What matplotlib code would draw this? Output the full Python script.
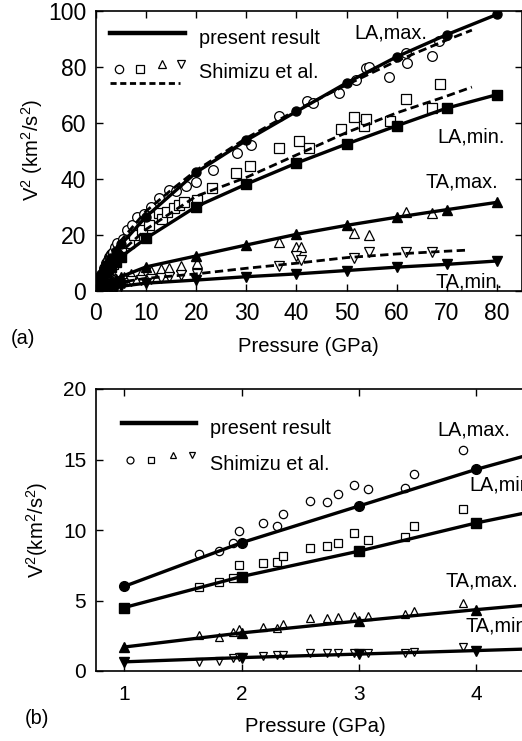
import matplotlib
matplotlib.use('Agg')
import matplotlib.pyplot as plt

plt.rcParams['font.family'] = ['Liberation Sans', 'DejaVu Sans']
plt.rcParams['mathtext.fontset'] = 'custom'
plt.rcParams['mathtext.rm'] = 'Liberation Sans'
plt.rcParams['mathtext.it'] = 'Liberation Sans'

# present result (calculated)
p_calc = [0, 1, 2, 3, 4, 5, 10, 20, 30, 40, 50, 60, 70, 80]
la_max = [2.8, 6.0, 9.1, 11.7, 14.3, 16.6, 26.5, 42.3, 53.7, 64.0, 74.2, 83.5, 91.4, 98.6]
la_min = [2.3, 4.5, 6.7, 8.5, 10.5, 12.2, 18.8, 30.1, 38.1, 45.6, 52.4, 58.9, 65.2, 70.0]
ta_max = [0.8, 1.7, 2.7, 3.55, 4.35, 5.1, 8.6, 12.5, 16.4, 20.2, 23.4, 26.3, 29.0, 31.6]
ta_min = [0.4, 0.65, 0.95, 1.2, 1.45, 1.7, 2.8, 3.9, 5.1, 6.1, 7.3, 8.5, 9.5, 10.7]

# Shimizu et al. fits (dashed)
p_fit_la_max = [1, 5, 10, 15, 20, 30, 40, 50, 60, 70, 75]
fit_la_max = [5.5, 18.0, 28.5, 36.0, 43.0, 54.5, 64.5, 73.5, 82.0, 89.5, 93.0]
p_fit_la_min = [1, 5, 10, 20, 30, 40, 50, 60, 70, 75]
fit_la_min = [5.0, 14.0, 22.0, 33.8, 40.5, 48.5, 56.5, 63.5, 69.5, 72.7]
p_fit_ta_min = [1, 5, 10, 20, 30, 40, 50, 60, 70, 74.5]
fit_ta_min = [1.5, 3.2, 4.5, 6.1, 8.1, 9.9, 11.9, 13.2, 14.2, 14.6]

# Shimizu et al. data, low pressure
p_low = [1.64, 1.81, 1.93, 1.98, 2.18, 2.30, 2.35, 2.58, 2.73, 2.82, 2.96, 3.08, 3.39, 3.47, 3.89]
s_la_max_low = [8.29, 8.52, 9.11, 9.96, 10.5, 10.3, 11.15, 12.07, 12.0, 12.55, 13.2, 12.9, 12.98, 13.99, 15.65]
s_la_min_low = [5.99, 6.30, 6.63, 7.53, 7.69, 7.76, 8.16, 8.71, 8.90, 9.09, 9.78, 9.30, 9.47, 10.29, 11.48]
s_ta_max_low = [2.56, 2.44, 2.75, 2.96, 3.15, 3.08, 3.31, 3.74, 3.74, 3.86, 3.90, 3.90, 4.03, 4.26, 4.80]
s_ta_min_low = [0.66, 0.73, 0.90, 1.02, 1.07, 1.14, 1.14, 1.26, 1.30, 1.30, 1.30, 1.26, 1.30, 1.37, 1.73]

# Shimizu et al. data, high pressure
p_hi_la_max = [4.2, 5.3, 6.2, 7.2, 8.2, 9.5, 11, 12.6, 14.6, 16, 17.9, 19.9, 23.4, 28.2, 30.9,
               36.5, 42.2, 43.2, 48.5, 51.8, 53.8, 54.5, 58.5, 61.8, 62.1, 67.1, 68.5]
s_la_max_hi = [17.0, 18.5, 21.8, 23.6, 26.5, 27.5, 30.0, 33.1, 36.1, 35.5, 37.3, 39.0, 43.0, 49.2, 52.1,
               62.3, 67.6, 67.0, 70.6, 75.4, 79.5, 79.9, 76.2, 84.9, 81.3, 83.7, 89.0]
p_hi_la_min = [5, 6.5, 7.6, 9.2, 10.5, 12.6, 13.2, 14.2, 15.5, 16.6, 17.6, 20.2, 23.2, 27.9, 30.7,
               36.5, 40.5, 42.5, 48.8, 51.5, 53.5, 53.8, 58.6, 61.8, 67.1, 68.6]
s_la_min_hi = [14.5, 17.0, 20.0, 21.8, 23.5, 27.7, 25.5, 28.3, 29.5, 30.5, 31.9, 32.5, 36.7, 42.0, 44.4,
               51.0, 53.3, 51.0, 57.6, 62.0, 58.8, 61.3, 60.6, 68.3, 65.2, 73.8]
p_hi_ta = [5.5, 7, 9, 11, 13, 14.5, 16.9, 20.2, 36.5, 39.9, 40.9, 51.5, 54.5, 61.8, 67.1]
s_ta_max_hi = [5.0, 6.0, 6.5, 7.3, 8.0, 8.3, 8.9, 9.9, 17.6, 15.7, 15.7, 20.6, 20.0, 28.1, 27.7]
s_ta_min_hi = [3.0, 3.4, 3.8, 4.2, 4.5, 5.0, 5.7, 6.1, 9.0, 12.3, 11.1, 11.9, 14.0, 14.0, 14.0]

W, H = 522, 741
fig = plt.figure(figsize=(W / 100, H / 100), dpi=100)


def box(l, t, r, b):
    return [l / W, 1 - b / H, (r - l) / W, (b - t) / H]


ax1 = fig.add_axes(box(96, 10.5, 522, 291))
ax2 = fig.add_axes(box(96, 389, 522, 671))

calc = [(la_max, 'o'), (la_min, 's'), (ta_max, '^'), (ta_min, 'v')]
shim_low = [(s_la_max_low, 'o'), (s_la_min_low, 's'), (s_ta_max_low, '^'), (s_ta_min_low, 'v')]
shim_hi = [(p_hi_la_max, s_la_max_hi, 'o'), (p_hi_la_min, s_la_min_hi, 's'),
           (p_hi_ta, s_ta_max_hi, '^'), (p_hi_ta, s_ta_min_hi, 'v')]

# panel (a)
for vals, m in calc:
    ax1.plot(p_calc, vals, '-', color='black', lw=2.4, marker=m, ms=6.5, zorder=3)
for px, vals in [(p_fit_la_max, fit_la_max), (p_fit_la_min, fit_la_min), (p_fit_ta_min, fit_ta_min)]:
    ax1.plot(px, vals, '--', color='black', lw=2.0, dashes=(3, 1.6), zorder=2)
for vals, m in shim_low:
    ax1.plot(p_low, vals, m, ms=7, mfc='white', mec='black', mew=0.9, zorder=1)
for px, vals, m in shim_hi:
    ax1.plot(px, vals, m, ms=7, mfc='white', mec='black', mew=0.9, zorder=1)

ax1.set_xlim(0, 85)
ax1.set_ylim(0, 100)
ax1.set_xticks(range(0, 81, 10))
ax1.set_yticks(range(0, 101, 20))
ax1.tick_params(direction='in', top=True, right=True, labelsize=16.5, length=5, width=1)
ax1.tick_params(axis='x', pad=8)
ax1.tick_params(axis='y', pad=7)

# legend (a)
tr = ax1.transAxes
ax1.plot([(110 - 96) / 426, (185 - 96) / 426], [(291 - 33) / 280.5] * 2, '-', color='black', lw=3.2, transform=tr)
for xp, m, yp in [(119, 'o', 69), (140, 's', 69), (162, '^', 64), (181, 'v', 64)]:
    ax1.plot([(xp - 96) / 426], [(291 - yp) / 280.5], m, ms=6, mfc='white', mec='black', mew=0.9, transform=tr)
ax1.plot([(110 - 96) / 426, (180 - 96) / 426], [(291 - 83) / 280.5] * 2, '--', color='black', lw=2.0,
         dashes=(2.2, 1.3), transform=tr)

# panel (b): calculated curves start at 1 GPa
for vals, m in calc:
    ax2.plot(p_calc[1:], vals[1:], '-', color='black', lw=2.4, marker=m, ms=7, zorder=3)
for vals, m in shim_low:
    ax2.plot(p_low, vals, m, ms=6, mfc='white', mec='black', mew=0.9, zorder=1)

ax2.set_xlim(0.76, 4.39)
ax2.set_ylim(0, 20)
ax2.set_xticks([1, 2, 3, 4])
ax2.set_yticks(range(0, 21, 5))
ax2.tick_params(direction='in', top=True, right=False, labelsize=15, length=5, width=1)
ax2.tick_params(axis='x', pad=10)
ax2.tick_params(axis='y', pad=7)
ax2.spines['right'].set_visible(False)

tr2 = ax2.transAxes
ax2.plot([(122 - 96) / 426, (196 - 96) / 426], [(671 - 423) / 282] * 2, '-', color='black', lw=3.2, transform=tr2)
for xp, m, yp in [(130, 'o', 460), (151, 's', 460), (173, '^', 455), (192, 'v', 455)]:
    ax2.plot([(xp - 96) / 426], [(671 - yp) / 282], m, ms=5, mfc='white', mec='black', mew=0.9, transform=tr2)

for ax in (ax1, ax2):
    for s in ax.spines.values():
        s.set_linewidth(1.2)

fs = 14.3


def ftext(x, y, s, **kw):
    fig.text(x / W, 1 - y / H, s, fontsize=kw.pop('fontsize', fs), **kw)


# legend texts
ftext(199, 38, 'present result', va='center')
ftext(199, 73, 'Shimizu et al.', va='center')
ftext(210, 429, 'present result', va='center')
ftext(210, 465, 'Shimizu et al.', va='center')

# curve labels (the ones at the right edge are cut off, as in the original)
ftext(354, 33, 'LA,max.', va='center')
ftext(437, 137, 'LA,min.', va='center')
ftext(426, 182, 'TA,max.', va='center')
ftext(435, 282, 'TA,min.', va='center')
ftext(437, 430, 'LA,max.', va='center')
ftext(469, 485, 'LA,min.', va='center')
ftext(445, 581, 'TA,max.', va='center')
ftext(465, 626, 'TA,min.', va='center')

# axis labels
ftext(308, 347, 'Pressure (GPa)', ha='center', va='center', fontsize=14.6)
ftext(315, 727, 'Pressure (GPa)', ha='center', va='center', fontsize=14.6)
ftext(23, 338, '(a)', ha='center', va='center')
ftext(37, 718, '(b)', ha='center', va='center')
ftext(32, 150, r'V$^2$ (km$^2$/s$^2$)', ha='center', va='center', rotation=90, fontsize=14.6)
ftext(37, 530, r'V$^2$(km$^2$/s$^2$)', ha='center', va='center', rotation=90, fontsize=14.6)

fig.savefig('out.png', dpi=100)
